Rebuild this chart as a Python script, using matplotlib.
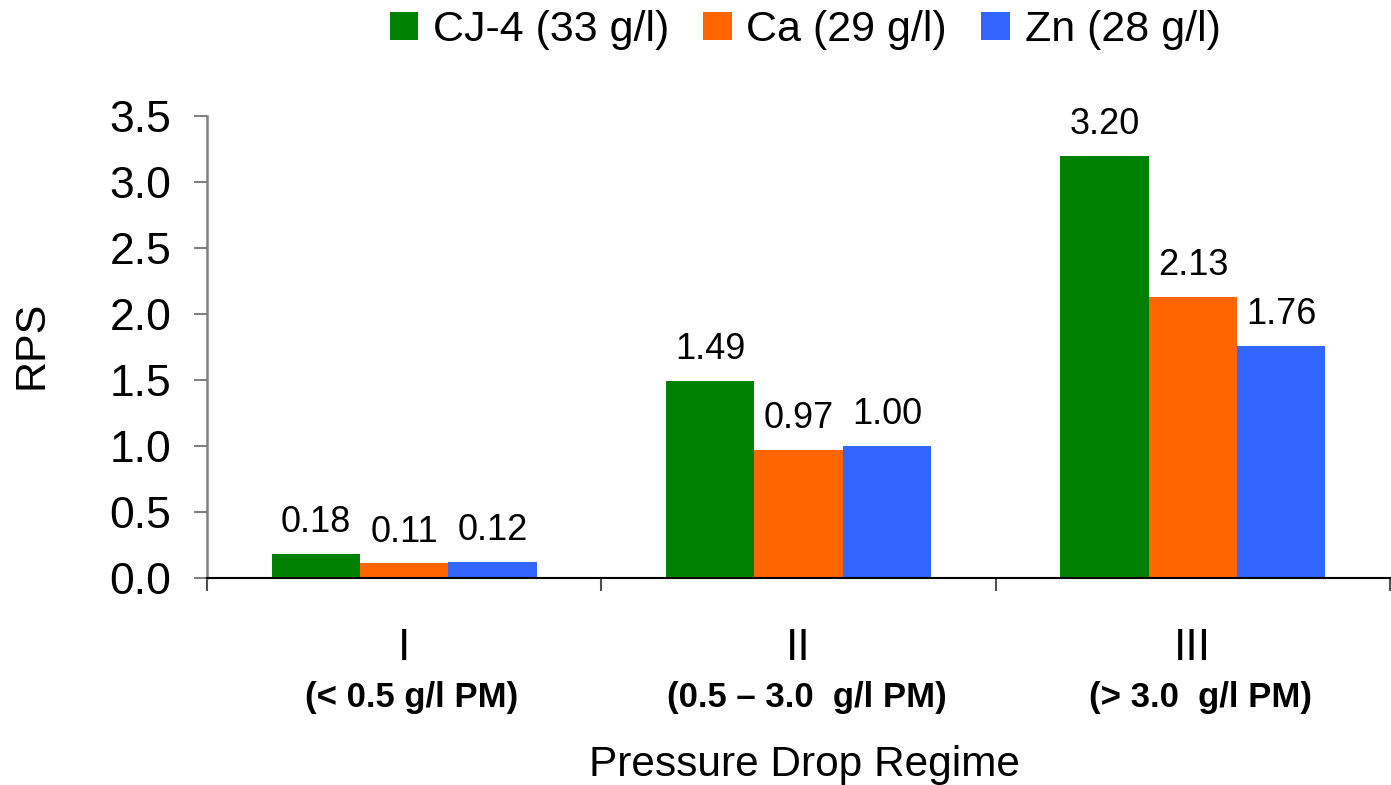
import matplotlib
matplotlib.use("Agg")
import matplotlib.pyplot as plt
import matplotlib.transforms as mtransforms
import numpy as np

plt.rcParams['font.family'] = ['Liberation Sans', 'DejaVu Sans']

categories = ["I", "II", "III"]
sublabels = ["(< 0.5 g/l PM)", "(0.5 \u2013 3.0  g/l PM)", "(> 3.0  g/l PM)"]
series_names = ["CJ-4 (33 g/l)", "Ca (29 g/l)", "Zn (28 g/l)"]
cj4 = [0.18, 1.49, 3.20]
ca = [0.11, 0.97, 2.13]
zn = [0.12, 1.00, 1.76]
colors = ["#008000", "#FF6600", "#3366FF"]
yticks = [0.0, 0.5, 1.0, 1.5, 2.0, 2.5, 3.0, 3.5]

fig = plt.figure(figsize=(13.91, 7.85), dpi=100)
ax = fig.add_axes([207/1391, 1-578/785, 1183/1391, 462/785])

x = np.arange(len(categories))
w = 0.224
for i, (vals, c, name) in enumerate(zip([cj4, ca, zn], colors, series_names)):
    bars = ax.bar(x + (i-1)*w, vals, width=w, color=c, label=name, zorder=2)
    for b, v in zip(bars, vals):
        ax.annotate(f"{v:.2f}", (b.get_x()+b.get_width()/2, v), xytext=(0, 10),
                    textcoords="offset points", ha="center", va="bottom", fontsize=26)

ax.set_xlim(-0.5, 2.5)
ax.set_ylim(0, 3.5)
ax.set_yticks(yticks)
ax.set_yticklabels([f"{t:.1f}" for t in yticks], fontsize=32)
ax.tick_params(axis='y', direction='out', length=9.5, width=1.5, color='#808080', pad=16)
ax.yaxis.get_major_ticks()[0].tick1line.set_color('black')

ax.set_xticks(x)
ax.set_xticklabels(categories, fontsize=32)
ax.tick_params(axis='x', which='major', length=0, pad=36)
ax.set_xticks([-0.5, 0.5, 1.5, 2.5], minor=True)
ax.tick_params(axis='x', which='minor', length=9.5, width=1.5, color='#505050', direction='out')

for s in ['top', 'right']:
    ax.spines[s].set_visible(False)
ax.spines['left'].set_color('#808080')
ax.spines['left'].set_linewidth(1.8)
ax.spines['bottom'].set_color('black')
ax.spines['bottom'].set_linewidth(1.5)

trans = mtransforms.blended_transform_factory(ax.transData, ax.transAxes)
for xi, s in zip(x, sublabels):
    ax.text(xi + 0.02, -0.2576, s, transform=trans, ha='center', va='center',
            fontsize=25, fontweight='bold')

fig.text(804/1391, 1-765/785, "Pressure Drop Regime", ha='center', va='center', fontsize=30.5)
fig.text(32/1391, 1-345/785, "RPS", ha='center', va='center', rotation=90, fontsize=31)

fig.legend(loc='center', bbox_to_anchor=(805/1391, 1-30/785), ncol=3, frameon=False,
           fontsize=31, handlelength=0.67, handleheight=0.65, handletextpad=0.33,
           columnspacing=0.8, borderaxespad=0, borderpad=0)

fig.savefig("out.png", dpi=100)
